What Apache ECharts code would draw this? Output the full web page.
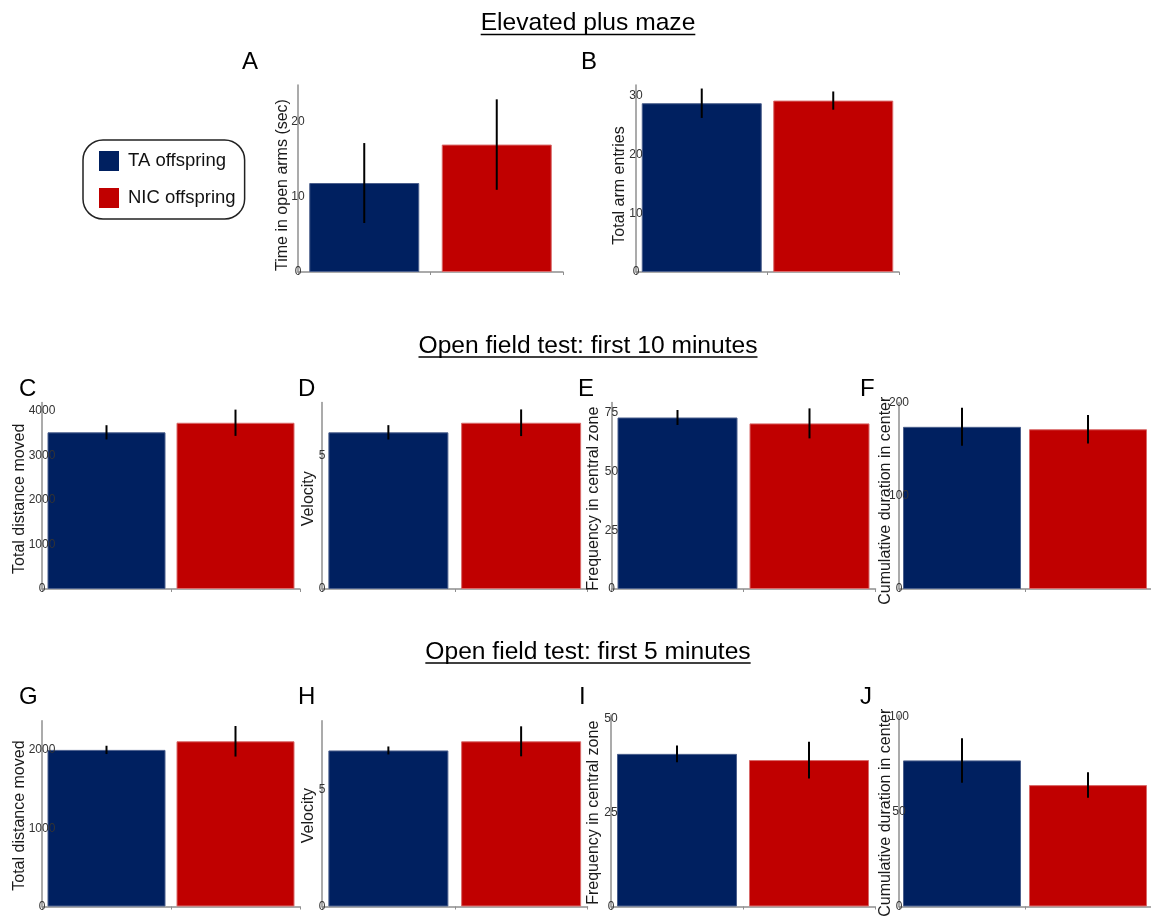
<!DOCTYPE html>
<html>
<head>
<meta charset="utf-8">
<title>Elevated plus maze and open field test</title>
<script src="https://cdn.jsdelivr.net/npm/echarts@6/dist/echarts.min.js"></script>
<style>
  html, body { margin: 0; padding: 0; background: #ffffff; }
  #chart { width: 1151px; height: 920px; }
</style>
</head>
<body>
<div id="chart"></div>
<script>
// ---- data -------------------------------------------------------------
const groups = ['TA offspring', 'NIC offspring'];
const categories = ['TA', 'NIC'];
const sectionTitles = [
  'Elevated plus maze',
  'Open field test: first 10 minutes',
  'Open field test: first 5 minutes'
];
const panelLetters = ['A', 'B', 'C', 'D', 'E', 'F', 'G', 'H', 'I', 'J'];
const axisNames = [
  'Time in open arms (sec)', 'Total arm entries',
  'Total distance moved', 'Velocity', 'Frequency in central zone', 'Cumulative duration in center',
  'Total distance moved', 'Velocity', 'Frequency in central zone', 'Cumulative duration in center'
];
const taMeans   = [11.8, 28.7, 3520, 5.88, 73.1, 173.9, 2000, 6.66, 40.65, 76.9];
const taErrors  = [5.3,  2.5,  160,  0.27, 3.2,  20.4,  53,   0.17, 2.25,  11.7];
const nicMeans  = [16.9, 29.15, 3735, 6.24, 70.6, 171.3, 2110, 7.05, 39.0, 63.9];
const nicErrors = [6.0,  1.55, 295,  0.5,  6.4,  15.2,  195,  0.64, 4.9,   6.7];
const axisMax   = [24.8, 31.8, 4190, 7.0, 79.5, 200, 2373, 7.93, 51, 100.8];
const tickStep  = [10, 10, 1000, 5, 25, 100, 1000, 5, 25, 50];

// ---- layout -----------------------------------------------------------
const FONT = '"Liberation Sans", Arial, Helvetica, sans-serif';
const NAVY = '#002060';
const RED = '#C00000';
const AXIS_GREY = '#8f8f8f';

// plot rectangles of the ten panels; gap = axis-title distance, shift = axis-title slide along the axis
const panels = [
  { left: 298,   top: 85,    width: 265,   height: 187,   bar: 110, gap: 7,  shift: 13 },
  { left: 636,   top: 85,    width: 263,   height: 187,   bar: 120, gap: 8,  shift: 14 },
  { left: 42,    top: 402.5, width: 258,   height: 186.5, bar: 118, gap: 14, shift: 6 },
  { left: 322,   top: 402.5, width: 265.5, height: 186.5, bar: 120, gap: 5,  shift: 6 },
  { left: 611.5, top: 402.5, width: 264,   height: 186.5, bar: 120, gap: 10, shift: 6 },
  { left: 899,   top: 402.5, width: 264,   height: 186.5, bar: 118, gap: 5,  shift: 10 },
  { left: 42,    top: 720.7, width: 258,   height: 185.8, bar: 118, gap: 14, shift: 4 },
  { left: 322,   top: 720.7, width: 265.5, height: 185.8, bar: 120, gap: 5,  shift: 4 },
  { left: 611,   top: 715,   width: 264,   height: 191.5, bar: 120, gap: 9,  shift: 4 },
  { left: 899,   top: 715,   width: 264,   height: 191.5, bar: 118, gap: 5,  shift: 4 }
];
const letterPos = [
  [242, 62], [581, 62],
  [19, 389], [298, 389], [578, 389], [860, 389],
  [19, 697], [298, 697], [579, 697], [860, 697]
];
const titlePos = [[588, 23.5], [588, 346], [588, 652]];

// ---- option -----------------------------------------------------------
const grids = [], xAxes = [], yAxes = [], series = [];

panels.forEach((p, i) => {
  grids.push({ left: p.left, top: p.top, width: p.width, height: p.height, containLabel: false });

  xAxes.push({
    type: 'category',
    gridIndex: i,
    data: categories,
    axisLine: { show: true, lineStyle: { color: AXIS_GREY, width: 1.5 } },
    axisTick: { show: true, length: 3, lineStyle: { color: AXIS_GREY, width: 1 } },
    axisLabel: { show: false },
    splitLine: { show: false }
  });

  const step = tickStep[i];
  yAxes.push({
    type: 'value',
    gridIndex: i,
    z: 4,
    min: 0,
    max: axisMax[i],
    interval: step,
    name: axisNames[i],
    nameLocation: 'middle',
    nameGap: p.gap,
    nameMoveOverlap: false,
    nameTextStyle: {
      fontFamily: FONT, fontSize: 16, color: '#1a1a1a',
      padding: [0, p.shift, 0, 0]
    },
    axisLine: { show: true, lineStyle: { color: AXIS_GREY, width: 1.5 } },
    axisTick: { show: false },
    splitLine: { show: false },
    axisLabel: {
      show: true,
      showMaxLabel: true,
      margin: 0,
      align: 'center',
      fontFamily: FONT,
      fontSize: 12,
      color: '#333333',
      padding: [0, 0, 4, 0],
      formatter: v => (Math.abs(v / step - Math.round(v / step)) < 1e-6 ? String(v) : '')
    }
  });

  const barCommon = {
    type: 'bar',
    xAxisIndex: i,
    yAxisIndex: i,
    barWidth: p.bar,
    barGap: '-100%',
    silent: true,
    animation: false
  };
  series.push(Object.assign({}, barCommon, {
    name: groups[0],
    data: [taMeans[i], '-'],
    itemStyle: { color: NAVY, borderColor: '#4b5f8c', borderWidth: 1 }
  }));
  series.push(Object.assign({}, barCommon, {
    name: groups[1],
    data: ['-', nicMeans[i]],
    itemStyle: { color: RED, borderColor: '#d96a6a', borderWidth: 1 }
  }));

  // mean ± error whiskers
  series.push({
    type: 'custom',
    xAxisIndex: i,
    yAxisIndex: i,
    silent: true,
    animation: false,
    z: 5,
    data: [[0, taMeans[i], taErrors[i]], [1, nicMeans[i], nicErrors[i]]],
    encode: { x: 0, y: 1 },
    renderItem: (params, api) => {
      const c = api.value(0), m = api.value(1), e = api.value(2);
      const hi = api.coord([c, m + e]);
      const lo = api.coord([c, m - e]);
      return {
        type: 'line',
        shape: { x1: hi[0], y1: hi[1], x2: lo[0], y2: lo[1] },
        style: { stroke: '#000000', lineWidth: 2 }
      };
    }
  });
});

// section headings with underline
const measure = document.createElement('canvas').getContext('2d');
const TITLE_FONT = '24.6px ' + FONT;
measure.font = TITLE_FONT;
const graphics = [];
sectionTitles.forEach((t, k) => {
  const [cx, cy] = titlePos[k];
  const w = measure.measureText(t).width;
  graphics.push({
    type: 'text', x: cx, y: cy, z: 10,
    style: { text: t, font: TITLE_FONT, fill: '#000', textAlign: 'center', textVerticalAlign: 'middle' }
  });
  graphics.push({
    type: 'line', z: 10,
    shape: { x1: cx - w / 2, y1: cy + 11, x2: cx + w / 2, y2: cy + 11 },
    style: { stroke: '#000', lineWidth: 1.5 }
  });
});
panelLetters.forEach((L, i) => {
  graphics.push({
    type: 'text', x: letterPos[i][0], y: letterPos[i][1], z: 10,
    style: { text: L, font: '24px ' + FONT, fill: '#000', textAlign: 'left', textVerticalAlign: 'middle' }
  });
});

const option = {
  backgroundColor: '#ffffff',
  animation: false,
  textStyle: { fontFamily: FONT },
  legend: {
    data: groups,
    orient: 'vertical',
    left: 83,
    top: 140,
    width: 160,
    itemWidth: 20,
    itemHeight: 20,
    itemGap: 17,
    icon: 'rect',
    padding: [11, 9, 11, 16],
    borderColor: '#222222',
    borderWidth: 1.5,
    borderRadius: 20,
    selectedMode: false,
    textStyle: { fontFamily: FONT, fontSize: 18.5, color: '#111111', padding: [0, 0, 0, 4] },
    itemStyle: { borderWidth: 0 }
  },
  grid: grids,
  xAxis: xAxes,
  yAxis: yAxes,
  series: series,
  graphic: graphics
};

const chart = echarts.init(document.getElementById('chart'), null, { renderer: 'canvas' });
chart.setOption(option);
</script>
</body>
</html>
